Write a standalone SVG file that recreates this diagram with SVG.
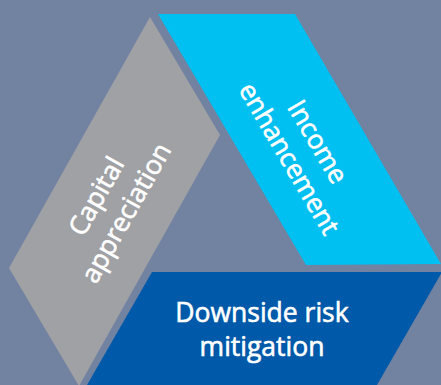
<svg xmlns="http://www.w3.org/2000/svg" width="441" height="385" viewBox="0 0 441 385">
<style>
.lbl{font-family:"Open Sans","Liberation Sans",sans-serif;font-size:26.5px;font-weight:400;fill:#ffffff;stroke:#ffffff;stroke-width:0.6px;text-anchor:middle}
</style>
<rect width="441" height="385" fill="#7282a1"/>
<g id="capital">
<polygon points="150,17 220,135 79,386 9,268" fill="#a0a1a5"/>
<g transform="translate(113,205.5) rotate(-60.7)">
<text class="lbl" x="0" y="-10">Capital</text>
<text class="lbl" x="0" y="24">appreciation</text>
</g>
</g>
<g id="income">
<polygon points="158,14 295,14 441,264 306,265" fill="#00bff1"/>
<g transform="translate(302,151) rotate(59.5)">
<text class="lbl" x="0" y="-9">Income</text>
<text class="lbl" x="0" y="24">enhancement</text>
</g>
</g>
<g id="downside">
<polygon points="152,272 442,272 377,385 87,385" fill="#0059a9"/>
<text class="lbl" x="262" y="322">Downside risk</text>
<text class="lbl" x="262" y="356">mitigation</text>
</g>
<g id="connectors"></g>
</svg>
